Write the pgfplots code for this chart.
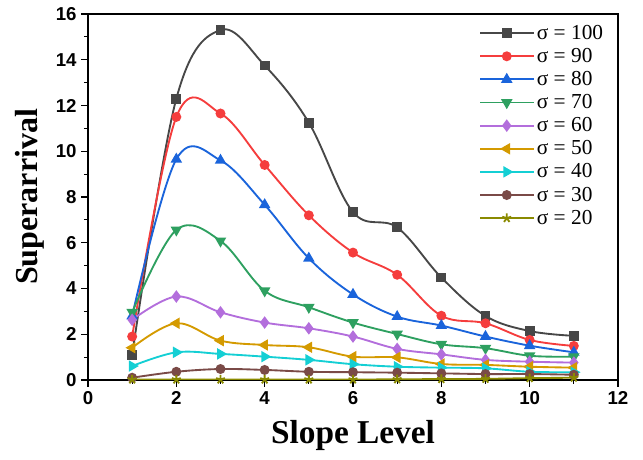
\documentclass[border=0pt]{standalone}
\usepackage{pgfplots}
\pgfplotsset{compat=1.18}
\usepackage{fontspec}
\setmainfont{Liberation Serif}
\setsansfont{Liberation Sans}
\definecolor{c1}{HTML}{474747}
\definecolor{c2}{HTML}{F53D3D}
\definecolor{c3}{HTML}{1A64DB}
\definecolor{c4}{HTML}{2EA060}
\definecolor{c5}{HTML}{B36EDC}
\definecolor{c6}{HTML}{D49A00}
\definecolor{c7}{HTML}{14CFD4}
\definecolor{c8}{HTML}{7A4A47}
\definecolor{c9}{HTML}{8A8A00}
\begin{document}
\begin{tikzpicture}
\begin{axis}[
  name=ax,
  scale only axis,
  width=397.5pt, height=274.5pt,
  xmin=0, xmax=12, ymin=0, ymax=16,
  xtick={0,2,...,12}, ytick={0,2,...,16},
  minor x tick num=1, minor y tick num=1,
  tick align=outside, xtick pos=bottom, ytick pos=left,
  major tick length=5pt, minor tick length=3pt,
  every tick/.style={black, line width=0.8pt},
  axis line style={line width=0.8pt},
  /pgf/number format/assume math mode=true,
  ticklabel style={font=\fontsize{14}{16}\selectfont\sffamily\bfseries},
  xlabel={Slope Level}, ylabel={Superarrival},
  xlabel style={font=\fontsize{25}{27}\selectfont\bfseries, yshift=-5pt},
  ylabel style={font=\fontsize{24}{26}\selectfont\bfseries, yshift=2pt},
  legend style={draw=none, fill=none, at={(0.985,0.985)}, anchor=north east,
    font=\fontsize{16}{18}\selectfont, row sep=1.2pt, legend cell align=left},
  legend image code/.code={\draw[mark repeat=2,mark phase=2] plot coordinates {(0cm,0cm)(0.7cm,0cm)(1.4cm,0cm)};},
  every axis plot/.append style={smooth, tension=0.6, line width=1.4pt, mark size=3pt},
]
\addplot[c1, mark=square*] coordinates {(1,1.1)(2,12.3)(3,15.3)(4,13.75)(5,11.25)(6,7.34)(7,6.67)(8,4.48)(9,2.8)(10,2.14)(11,1.93)};
\addlegendentry{σ = 100}
\addplot[c2, mark=*] coordinates {(1,1.9)(2,11.5)(3,11.65)(4,9.4)(5,7.2)(6,5.57)(7,4.6)(8,2.81)(9,2.48)(10,1.75)(11,1.49)};
\addlegendentry{σ = 90}
\addplot[c3, mark=triangle*, mark size=3.6pt] coordinates {(1,2.8)(2,9.65)(3,9.6)(4,7.66)(5,5.32)(6,3.74)(7,2.77)(8,2.38)(9,1.9)(10,1.5)(11,1.21)};
\addlegendentry{σ = 80}
\addplot[c4, mark=triangle*, mark size=3.6pt, mark options={rotate=180}] coordinates {(1,2.96)(2,6.56)(3,6.08)(4,3.9)(5,3.18)(6,2.51)(7,2.01)(8,1.56)(9,1.39)(10,1.06)(11,1.02)};
\addlegendentry{σ = 70}
\addplot[c5, mark=diamond*, mark size=3.6pt] coordinates {(1,2.63)(2,3.65)(3,2.96)(4,2.51)(5,2.26)(6,1.9)(7,1.36)(8,1.12)(9,0.88)(10,0.8)(11,0.76)};
\addlegendentry{σ = 60}
\addplot[c6, mark=triangle*, mark size=3.6pt, mark options={rotate=90}] coordinates {(1,1.41)(2,2.48)(3,1.72)(4,1.53)(5,1.43)(6,1.02)(7,0.99)(8,0.7)(9,0.66)(10,0.58)(11,0.54)};
\addlegendentry{σ = 50}
\addplot[c7, mark=triangle*, mark size=3.6pt, mark options={rotate=-90}] coordinates {(1,0.61)(2,1.21)(3,1.14)(4,1.02)(5,0.88)(6,0.69)(7,0.58)(8,0.54)(9,0.51)(10,0.36)(11,0.34)};
\addlegendentry{σ = 40}
\addplot[c8, mark=*] coordinates {(1,0.1)(2,0.36)(3,0.48)(4,0.44)(5,0.36)(6,0.34)(7,0.32)(8,0.29)(9,0.26)(10,0.26)(11,0.23)};
\addlegendentry{σ = 30}
\addplot[c9, mark=star, mark size=3.5pt] coordinates {(1,0.02)(2,0.02)(3,0.02)(4,0.02)(5,0.02)(6,0.02)(7,0.03)(8,0.04)(9,0.05)(10,0.08)(11,0.1)};
\addlegendentry{σ = 20}
\end{axis}
\path ([xshift=-66pt,yshift=-60pt]ax.south west) rectangle ([xshift=18.75pt,yshift=10.5pt]ax.north east);
\end{tikzpicture}
\end{document}
